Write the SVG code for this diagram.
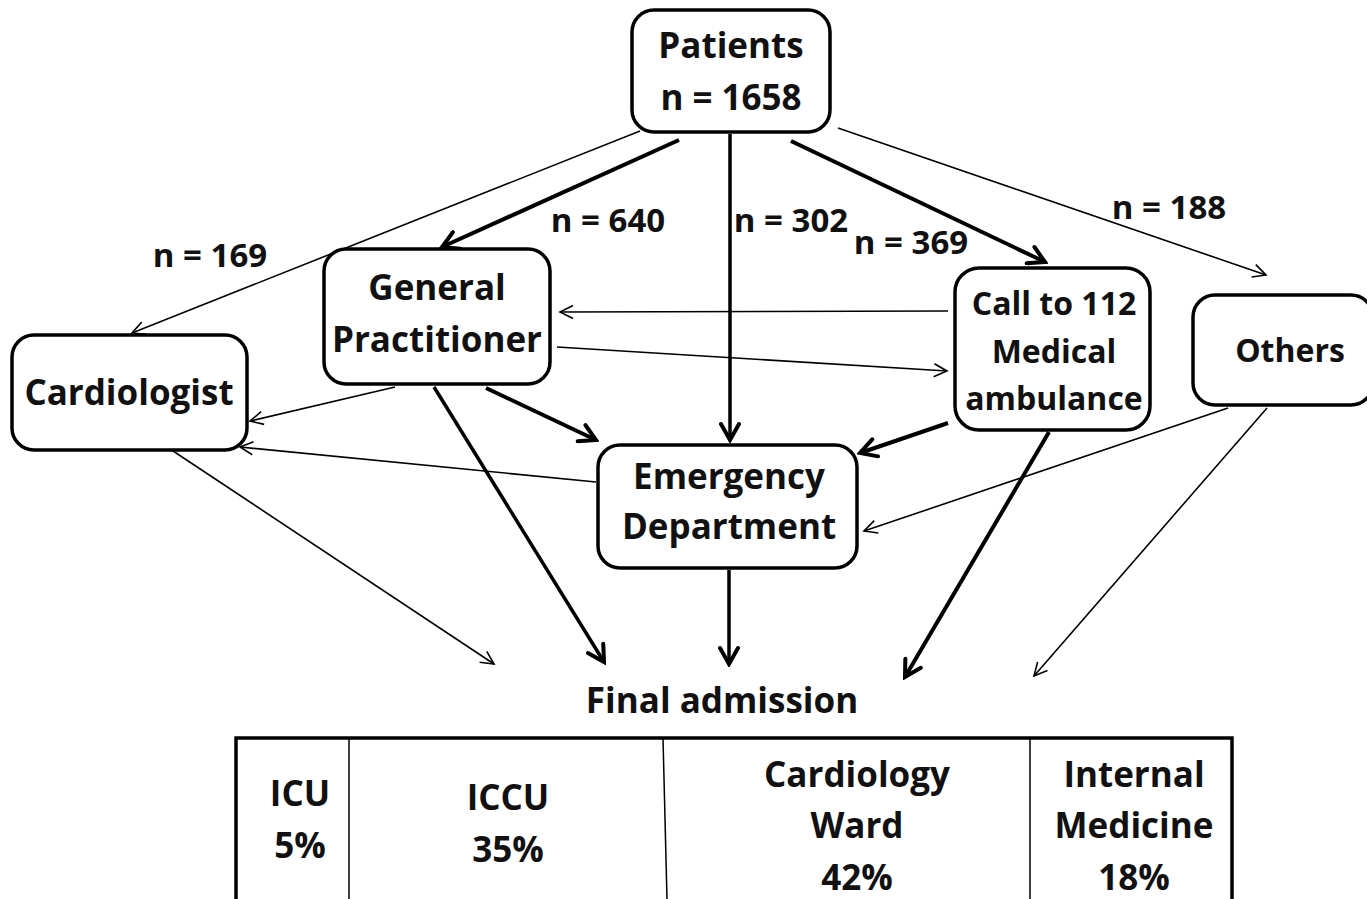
<svg xmlns="http://www.w3.org/2000/svg" width="1367" height="899" viewBox="0 0 1367 899">
<defs>
<style>
.box{fill:#fff;stroke:#000;stroke-width:3.5}
.t{font-family:"Open Sans","Noto Sans","Liberation Sans",sans-serif;font-weight:bold;fill:#111;text-anchor:middle}
.big{font-size:35px}
.lbl{font-size:33px}
.mid{font-size:32px}
.thick{stroke:#000;stroke-width:4;fill:none}
.med{stroke:#000;stroke-width:3.5;fill:none}
.thin{stroke:#000;stroke-width:1.6;fill:none}
</style>
<marker id="ah" markerUnits="userSpaceOnUse" viewBox="0 0 22 22" refX="19" refY="11" markerWidth="22" markerHeight="22" orient="auto">
<path d="M3,2 L19,11 L3,20" fill="none" stroke="#000" stroke-width="4" stroke-linecap="round"/>
</marker>
<marker id="at" markerUnits="userSpaceOnUse" viewBox="0 0 16 16" refX="14" refY="8" markerWidth="16" markerHeight="16" orient="auto">
<path d="M1,1.5 L14,8 L1,14.5" fill="none" stroke="#000" stroke-width="1.6"/>
</marker>
</defs>
<rect width="1367" height="899" fill="#fff"/>
<g id="connectors">
<line class="thick" x1="679" y1="140" x2="442" y2="247" marker-end="url(#ah)"/>
<line class="med" x1="730" y1="134" x2="730" y2="440" marker-end="url(#ah)"/>
<line class="thick" x1="791" y1="141" x2="1045" y2="262" marker-end="url(#ah)"/>
<line class="thick" x1="486" y1="388" x2="596" y2="440" marker-end="url(#ah)"/>
<line class="med" x1="434" y1="387" x2="604" y2="662" marker-end="url(#ah)"/>
<line class="thick" x1="948" y1="423" x2="860" y2="453" marker-end="url(#ah)"/>
<line class="thick" x1="1049" y1="432" x2="905" y2="677" marker-end="url(#ah)"/>
<line class="med" x1="729" y1="570" x2="729" y2="664" marker-end="url(#ah)"/>
<line class="thin" x1="640" y1="131" x2="132" y2="333" marker-end="url(#at)"/>
<line class="thin" x1="838" y1="128" x2="1266" y2="275" marker-end="url(#at)"/>
<line class="thin" x1="948" y1="311" x2="560" y2="312" marker-end="url(#at)"/>
<line class="thin" x1="557" y1="347" x2="947" y2="371" marker-end="url(#at)"/>
<line class="thin" x1="395" y1="387" x2="250" y2="421" marker-end="url(#at)"/>
<line class="thin" x1="596" y1="482" x2="240" y2="447" marker-end="url(#at)"/>
<line class="thin" x1="167" y1="447" x2="494" y2="664" marker-end="url(#at)"/>
<line class="thin" x1="1228" y1="408" x2="864" y2="531" marker-end="url(#at)"/>
<line class="thin" x1="1267" y1="408" x2="1034" y2="676" marker-end="url(#at)"/>
</g>
<g id="labels">
<text class="t lbl" x="210" y="267">n = 169</text>
<text class="t lbl" x="608" y="232">n = 640</text>
<text class="t lbl" x="791" y="232">n = 302</text>
<text class="t lbl" x="911" y="254">n = 369</text>
<text class="t lbl" x="1169" y="219">n = 188</text>
</g>
<g id="patients">
<rect class="box" x="632" y="10" width="198" height="122" rx="22"/>
<text class="t big" x="731" y="58">Patients</text>
<text class="t big" x="731" y="110">n = 1658</text>
</g>
<g id="gp">
<rect class="box" x="324" y="249" width="226" height="135" rx="22"/>
<text class="t big" x="437" y="300">General</text>
<text class="t big" x="437" y="352">Practitioner</text>
</g>
<g id="cardiologist">
<rect class="box" x="12" y="335" width="235" height="115" rx="22"/>
<text class="t big" x="129" y="405">Cardiologist</text>
</g>
<g id="call112">
<rect class="box" x="955" y="268" width="195" height="162" rx="24"/>
<text class="t mid" x="1054" y="315">Call to 112</text>
<text class="t mid" x="1054" y="363">Medical</text>
<text class="t mid" x="1054" y="410">ambulance</text>
</g>
<g id="others">
<rect class="box" x="1193" y="295" width="180" height="110" rx="22"/>
<text class="t mid" x="1290" y="362">Others</text>
</g>
<g id="ed">
<rect class="box" x="598" y="445" width="259" height="123" rx="22"/>
<text class="t big" x="729" y="489">Emergency</text>
<text class="t big" x="729" y="539">Department</text>
</g>
<g id="final">
<text class="t" style="font-size:35px" x="722" y="713">Final admission</text>
<rect x="236" y="738" width="996" height="170" fill="#fff" stroke="#000" stroke-width="3.5"/>
<line x1="349" y1="738" x2="349" y2="899" stroke="#000" stroke-width="1.5"/>
<line x1="663" y1="738" x2="667" y2="899" stroke="#000" stroke-width="1.5"/>
<line x1="1030" y1="738" x2="1030" y2="899" stroke="#000" stroke-width="1.5"/>
<text class="t big" x="300" y="806">ICU</text>
<text class="t big" x="300" y="858">5%</text>
<text class="t big" x="508" y="810">ICCU</text>
<text class="t big" x="508" y="862">35%</text>
<text class="t big" x="857" y="787">Cardiology</text>
<text class="t big" x="857" y="838">Ward</text>
<text class="t big" x="857" y="890">42%</text>
<text class="t big" x="1134" y="787">Internal</text>
<text class="t big" x="1134" y="838">Medicine</text>
<text class="t big" x="1134" y="890">18%</text>
</g>
</svg>
